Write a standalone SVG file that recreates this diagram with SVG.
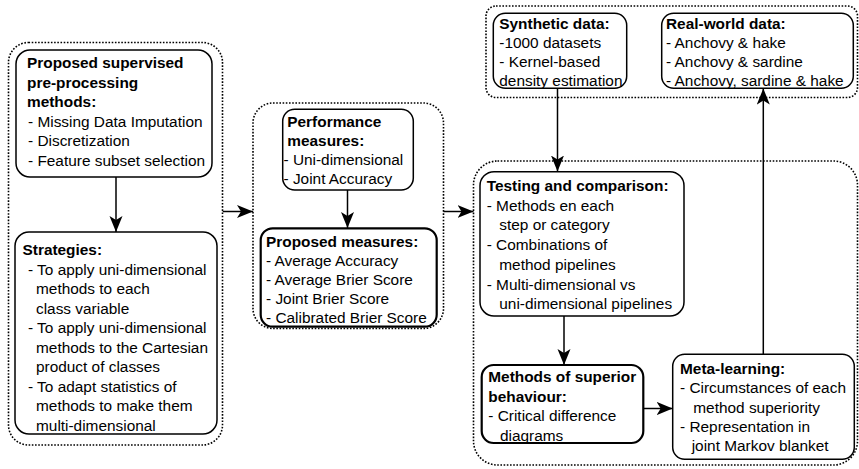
<svg xmlns="http://www.w3.org/2000/svg" width="859" height="469" viewBox="0 0 859 469">
<style>
text{font-family:"Liberation Sans",Arial,sans-serif;font-size:15.4px;fill:#000}
.t{font-weight:bold}
.box{fill:#fff;stroke:#000;stroke-width:1.5}
.thick{stroke-width:2.2}
.grp{fill:none;stroke:#000;stroke-width:1.6;stroke-dasharray:1.6 1.6}
.edge{fill:none;stroke:#000;stroke-width:1.5;marker-end:url(#arr)}
</style>
<defs>
<marker id="arr" markerUnits="userSpaceOnUse" markerWidth="17" markerHeight="14" refX="16" refY="6.5" orient="auto">
<path d="M0,0 L16,6.5 L0,13 L4,6.5 z" fill="#000"/>
</marker>
</defs>
<g id="groups">
<rect class="grp" x="8.5" y="42.5" width="214" height="402.5" rx="20"/>
<rect class="grp" x="253" y="103" width="190.5" height="225.5" rx="20"/>
<rect class="grp" x="473.5" y="161" width="384" height="304" rx="24"/>
<rect class="grp" x="486" y="6" width="371.5" height="91.5" rx="10"/>
</g>
<g id="connectors">
<line class="edge" x1="116" y1="177" x2="116" y2="232"/>
<line class="edge" x1="222.7" y1="211.5" x2="253" y2="211.5"/>
<line class="edge" x1="347.5" y1="190" x2="347.5" y2="228"/>
<line class="edge" x1="443.5" y1="211.5" x2="473.5" y2="211.5"/>
<line class="edge" x1="557.5" y1="88.3" x2="557.5" y2="171.5"/>
<line class="edge" x1="564" y1="316" x2="564" y2="365"/>
<line class="edge" x1="643.3" y1="408.5" x2="672.7" y2="408.5"/>
<line class="edge" x1="763.3" y1="354.3" x2="763.3" y2="88.5"/>
</g>
<g id="preprocessing">
<rect class="box" x="16" y="50" width="196" height="127" rx="14"/>
<text class="t" x="27" y="68.3">Proposed supervised</text>
<text class="t" x="27" y="87.8">pre-processing</text>
<text class="t" x="27" y="107.3">methods:</text>
<text x="28" y="126.8">- Missing Data Imputation</text>
<text x="28" y="146.3">- Discretization</text>
<text x="28" y="165.8">- Feature subset selection</text>
</g>
<g id="strategies">
<rect class="box" x="15" y="232" width="202" height="202" rx="14"/>
<text class="t" x="22.5" y="255">Strategies:</text>
<text x="28" y="274.5">- To apply uni-dimensional</text>
<text x="36" y="294">methods to each</text>
<text x="36" y="313.5">class variable</text>
<text x="28" y="333">- To apply uni-dimensional</text>
<text x="36" y="352.5">methods to the Cartesian</text>
<text x="36" y="372">product of classes</text>
<text x="28" y="391.5">- To adapt statistics of</text>
<text x="36" y="411">methods to make them</text>
<text x="36" y="430.5">multi-dimensional</text>
</g>
<g id="performance">
<rect class="box" x="282.7" y="109.3" width="130.6" height="80.7" rx="12"/>
<text class="t" x="287.3" y="126.5">Performance</text>
<text class="t" x="287.3" y="145.5">measures:</text>
<text x="283.5" y="165">- Uni-dimensional</text>
<text x="283.5" y="184">- Joint Accuracy</text>
</g>
<g id="proposed-measures">
<rect class="box thick" x="260.7" y="228.3" width="176" height="98.4" rx="12"/>
<text class="t" x="266" y="246.7">Proposed measures:</text>
<text x="266" y="266">- Average Accuracy</text>
<text x="266" y="285">- Average Brier Score</text>
<text x="266" y="304">- Joint Brier Score</text>
<text x="266" y="323">- Calibrated Brier Score</text>
</g>
<g id="synthetic">
<rect class="box" x="493.3" y="13.3" width="133.4" height="75" rx="12"/>
<text class="t" x="499.3" y="29">Synthetic data:</text>
<text x="499.3" y="48">-1000 datasets</text>
<text x="499.3" y="67">- Kernel-based</text>
<text x="499.3" y="86">density estimation</text>
</g>
<g id="realworld">
<rect class="box" x="661.7" y="13.3" width="191.6" height="75" rx="12"/>
<text class="t" x="666" y="29">Real-world data:</text>
<text x="666" y="48">- Anchovy &amp; hake</text>
<text x="666" y="67">- Anchovy &amp; sardine</text>
<text x="666" y="86">- Anchovy, sardine &amp; hake</text>
</g>
<g id="testing">
<rect class="box" x="480" y="171.7" width="204" height="144.3" rx="14"/>
<text class="t" x="486.7" y="190.7">Testing and comparison:</text>
<text x="486.7" y="210.5">- Methods en each</text>
<text x="499.3" y="230.3">step or category</text>
<text x="486.7" y="250">- Combinations of</text>
<text x="499.3" y="269.8">method pipelines</text>
<text x="486.7" y="289.6">- Multi-dimensional vs</text>
<text x="499.3" y="309.4">uni-dimensional pipelines</text>
</g>
<g id="superior">
<rect class="box thick" x="481.7" y="365" width="161.6" height="78" rx="12"/>
<text class="t" x="488.3" y="381.7">Methods of superior</text>
<text class="t" x="488.3" y="401.5">behaviour:</text>
<text x="488.3" y="421.3">- Critical difference</text>
<text x="500" y="440.5">diagrams</text>
</g>
<g id="metalearning">
<rect class="box" x="672.7" y="354.3" width="181.6" height="105" rx="12"/>
<text class="t" x="680" y="373.5">Meta-learning:</text>
<text x="680" y="393">- Circumstances of each</text>
<text x="693.3" y="412.5">method superiority</text>
<text x="680" y="432">- Representation in</text>
<text x="691.7" y="451">joint Markov blanket</text>
</g>
</svg>
